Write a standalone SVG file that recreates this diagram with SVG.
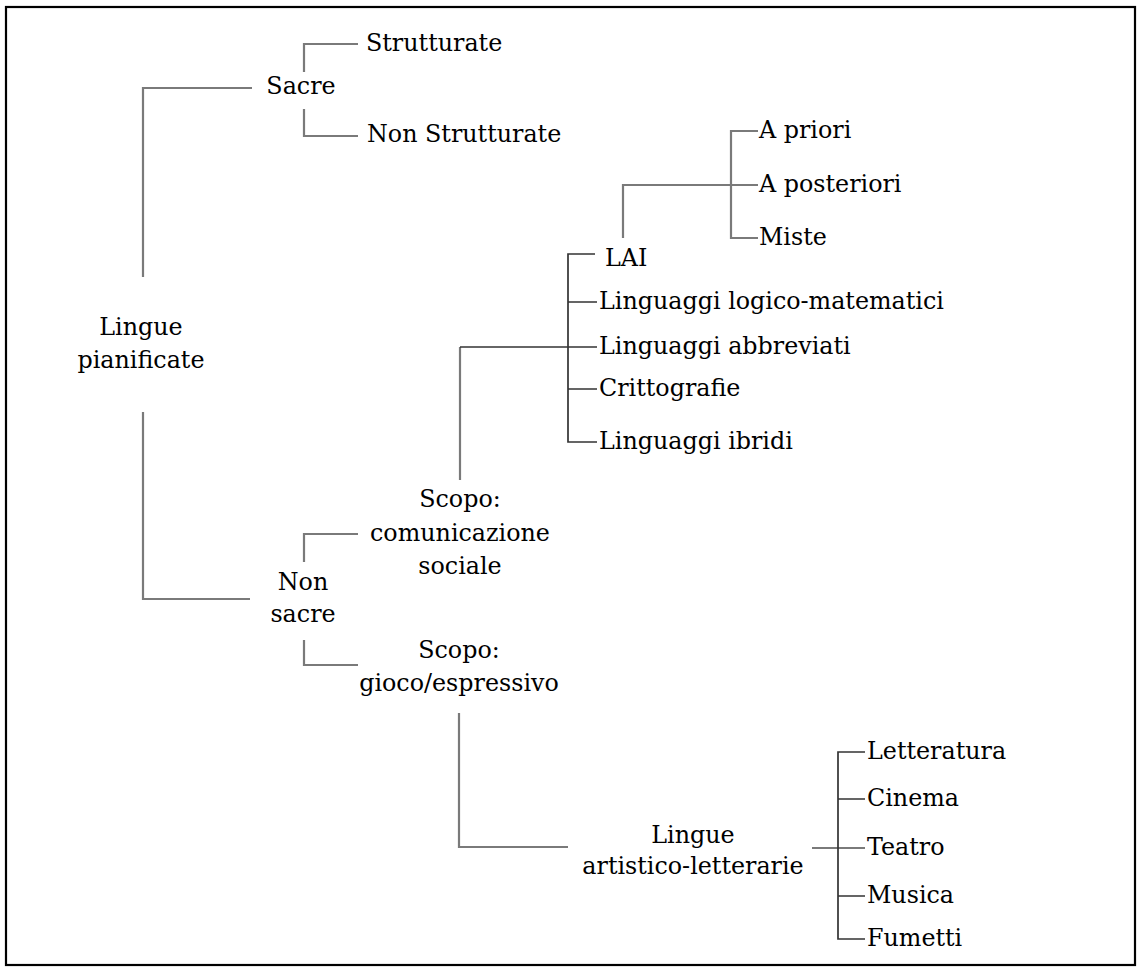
<svg xmlns="http://www.w3.org/2000/svg" width="1137" height="967" viewBox="0 0 1137 967">
<style>
text{font-family:"DejaVu Serif","Liberation Serif",serif;font-size:23.8px;fill:#000}
.m{text-anchor:middle}
.g{fill:none;stroke:#7a7a7a;stroke-width:2.2}
.d{fill:none;stroke:#333;stroke-width:1.7}
</style>
<rect x="6" y="7" width="1129" height="958" fill="#fff" stroke="#000" stroke-width="2.2"/>
<g id="connectors">
<path class="g" d="M252,88H143V277"/>
<path class="g" d="M143,412V599H250"/>
<path class="g" d="M358,44H304V72"/>
<path class="g" d="M304,109V136H358"/>
<path class="g" d="M358,534H304V562"/>
<path class="g" d="M304,640V665H358"/>
<path class="g" d="M460,480V347"/>
<path class="d" d="M460,347H597"/>
<path class="d" d="M595,254H568V442H597M568,302H597M568,389H597"/>
<path class="g" d="M623,238V185H758"/>
<path class="g" d="M758,131H731V238H758"/>
<path class="g" d="M459,713V847H568"/>
<path class="g" d="M812,848H865"/>
<path class="d" d="M865,752H838V939H865M838,799H865M838,896H865"/>
</g>
<g id="n-root"><text class="m" x="141" y="335">Lingue</text><text class="m" x="141" y="368">pianificate</text></g>
<g id="n-sacre"><text class="m" x="301" y="94">Sacre</text></g>
<g id="n-strutturate"><text x="366" y="51">Strutturate</text></g>
<g id="n-nonstrutturate"><text x="367" y="142">Non Strutturate</text></g>
<g id="n-nonsacre"><text class="m" x="303" y="590">Non</text><text class="m" x="303" y="622">sacre</text></g>
<g id="n-comunicazione"><text class="m" x="460" y="507">Scopo:</text><text class="m" x="460" y="541">comunicazione</text><text class="m" x="460" y="574">sociale</text></g>
<g id="n-lai"><text x="605" y="266">LAI</text></g>
<g id="n-apriori"><text x="759" y="138">A priori</text></g>
<g id="n-aposteriori"><text x="759" y="192">A posteriori</text></g>
<g id="n-miste"><text x="759" y="245">Miste</text></g>
<g id="n-logico"><text x="599" y="309">Linguaggi logico-matematici</text></g>
<g id="n-abbreviati"><text x="599" y="354">Linguaggi abbreviati</text></g>
<g id="n-crittografie"><text x="599" y="396">Crittografie</text></g>
<g id="n-ibridi"><text x="599" y="449">Linguaggi ibridi</text></g>
<g id="n-gioco"><text class="m" x="459" y="658">Scopo:</text><text class="m" x="459" y="691">gioco/espressivo</text></g>
<g id="n-artistico"><text class="m" x="693" y="843">Lingue</text><text class="m" x="693" y="874">artistico-letterarie</text></g>
<g id="n-letteratura"><text x="867" y="759">Letteratura</text></g>
<g id="n-cinema"><text x="867" y="806">Cinema</text></g>
<g id="n-teatro"><text x="867" y="855">Teatro</text></g>
<g id="n-musica"><text x="867" y="903">Musica</text></g>
<g id="n-fumetti"><text x="867" y="946">Fumetti</text></g>
</svg>
